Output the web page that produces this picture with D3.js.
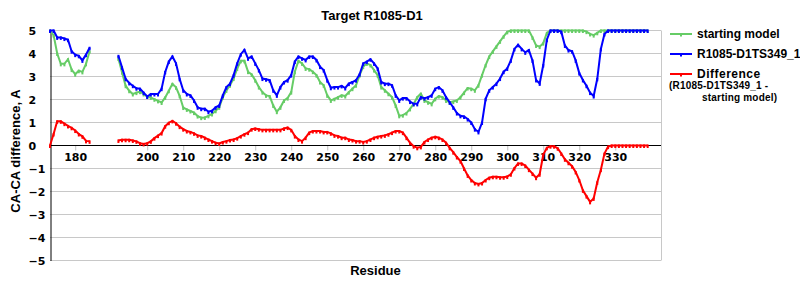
<!DOCTYPE html>
<html>
<head>
<meta charset="utf-8">
<script src="https://cdn.jsdelivr.net/npm/d3@7"></script>
<style>
	body { margin: 0; background: #fff; }
	text { font-family: "Liberation Sans", Arial, sans-serif; font-weight: bold; }
	.tick-label { font-family: "DejaVu Sans", Verdana, sans-serif; font-size: 11px; }
</style>
</head>
<body>
<script>

// residue numbers (185-191 missing in the model)
const residues = [
	173,174,175,176,177,178,179,180,181,182,
	183,184,185,186,187,188,189,190,191,192,
	193,194,195,196,197,198,199,200,201,202,
	203,204,205,206,207,208,209,210,211,212,
	213,214,215,216,217,218,219,220,221,222,
	223,224,225,226,227,228,229,230,231,232,
	233,234,235,236,237,238,239,240,241,242,
	243,244,245,246,247,248,249,250,251,252,
	253,254,255,256,257,258,259,260,261,262,
	263,264,265,266,267,268,269,270,271,272,
	273,274,275,276,277,278,279,280,281,282,
	283,284,285,286,287,288,289,290,291,292,
	293,294,295,296,297,298,299,300,301,302,
	303,304,305,306,307,308,309,310,311,312,
	313,314,315,316,317,318,319,320,321,322,
	323,324,325,326,327,328,329,330,331,332,
	333,334,335,336,337,338,339
]

const startingModel = [
	5.0, 4.8, 4.0, 3.55, 3.55, 3.75, 3.3, 3.1, 3.25, 3.2,
	3.55, 4.1, null, null, null, null, null, null, null, 3.78,
	3.19, 2.6, 2.38, 2.24, 2.3, 2.34, 2.24, 2.13, 2.09, 2.01,
	1.94, 1.87, 2.09, 2.38, 2.68, 2.53, 2.16, 1.65, 1.57, 1.5,
	1.43, 1.28, 1.21, 1.22, 1.29, 1.37, 1.51, 1.66, 2.1, 2.4,
	2.62, 2.91, 3.35, 3.68, 3.68, 3.21, 3.09, 2.84, 2.54, 2.32,
	2.18, 2.15, 1.74, 1.47, 1.66, 1.96, 2.06, 2.32, 3.21, 3.68,
	3.57, 3.35, 3.32, 3.21, 3.06, 2.76, 2.62, 2.18, 1.96, 2.03,
	2.1, 2.18, 2.15, 2.32, 2.47, 2.62, 3.06, 3.43, 3.57, 3.5,
	3.28, 3.06, 2.54, 2.4, 2.25, 2.1, 1.74, 1.29, 1.32, 1.41,
	1.59, 1.81, 2.1, 2.25, 1.96, 1.88, 1.81, 2.03, 2.15, 2.1,
	1.96, 1.88, 1.91, 1.96, 2.1, 2.3, 2.5, 2.47, 2.4, 2.62,
	3.06, 3.5, 3.87, 4.09, 4.31, 4.53, 4.75, 4.94, 5, 5,
	5, 5, 5, 5, 4.7, 4.35, 4.3, 4.45, 4.9, 5,
	5, 5, 5, 5, 5, 5, 5, 5, 5, 4.95,
	4.85, 4.8, 4.9, 5, 5, 5, 5, 5, 5, 5,
	5, 5, 5, 5, 5, 5, 5
]

const ts349 = [
	5.0, 5.0, 4.7, 4.7, 4.65, 4.6, 4.1, 3.95, 3.9, 3.7,
	3.95, 4.25, null, null, null, null, null, null, null, 3.9,
	3.4, 2.9, 2.72, 2.6, 2.49, 2.47, 2.3, 2.13, 2.24, 2.24,
	2.24, 2.47, 3.2, 3.65, 3.87, 3.57, 2.9, 2.4, 2.24, 2.18,
	1.96, 1.66, 1.6, 1.6, 1.47, 1.51, 1.66, 1.74, 2.18, 2.54,
	2.69, 3.06, 3.57, 3.97, 4.16, 3.79, 3.87, 3.57, 3.28, 2.91,
	2.88, 2.84, 2.4, 2.18, 2.54, 2.76, 2.84, 3.06, 3.65, 3.87,
	3.79, 3.72, 3.87, 3.87, 3.72, 3.43, 3.28, 2.84, 2.51, 2.54,
	2.54, 2.59, 2.5, 2.69, 2.76, 2.84, 3.1, 3.57, 3.65, 3.75,
	3.57, 3.35, 2.76, 2.69, 2.69, 2.62, 2.18, 1.96, 2.06, 2.06,
	1.91, 1.81, 1.81, 2.1, 2.06, 2.1, 2.18, 2.47, 2.54, 2.4,
	2.1, 1.88, 1.66, 1.41, 1.29, 1.26, 1.15, 1.0, 0.71, 0.59,
	1.0, 2.03, 2.4, 2.54, 2.69, 2.91, 3.21, 3.35, 3.7, 4.2,
	4.38, 4.2, 4.05, 4.15, 3.7, 2.85, 2.7, 3.5, 4.6, 5,
	5, 5, 4.95, 4.35, 4.15, 4.1, 3.7, 3.15, 2.85, 2.6,
	2.3, 2.15, 2.9, 4.2, 4.85, 5, 5, 5, 5, 5,
	5, 5, 5, 5, 5, 5, 5
]

const difference = [
	0, 0.5, 1.05, 1.05, 0.95, 0.85, 0.77, 0.65, 0.5, 0.4,
	0.2, 0.18, null, null, null, null, null, null, null, 0.22,
	0.25, 0.25, 0.25, 0.22, 0.18, 0.1, 0.07, 0.1, 0.18, 0.32,
	0.43, 0.54, 0.84, 0.99, 1.07, 0.97, 0.82, 0.71, 0.63, 0.59,
	0.53, 0.44, 0.41, 0.34, 0.26, 0.19, 0.12, 0.09, 0.15, 0.19,
	0.24, 0.26, 0.32, 0.41, 0.49, 0.56, 0.71, 0.74, 0.71, 0.68,
	0.68, 0.68, 0.68, 0.68, 0.68, 0.74, 0.78, 0.68, 0.41, 0.26,
	0.19, 0.34, 0.56, 0.63, 0.63, 0.63, 0.59, 0.59, 0.53, 0.44,
	0.41, 0.34, 0.34, 0.26, 0.24, 0.19, 0.19, 0.15, 0.19, 0.26,
	0.34, 0.38, 0.41, 0.44, 0.49, 0.56, 0.63, 0.63, 0.56, 0.34,
	0.12, -0.03, -0.1, -0.06, 0.15, 0.26, 0.34, 0.38, 0.34, 0.26,
	0.12, -0.1, -0.29, -0.5, -0.68, -1.0, -1.3, -1.5, -1.63, -1.67,
	-1.63, -1.5, -1.4, -1.36, -1.36, -1.38, -1.38, -1.35, -1.25, -0.98,
	-0.78, -0.78, -0.87, -1.05, -1.22, -1.4, -1.25, -0.4, -0.1, -0.03,
	-0.03, -0.12, -0.35, -0.6, -0.75, -0.9, -1.15, -1.5, -1.95, -2.2,
	-2.45, -2.3, -1.6, -1.05, -0.35, -0.05, 0, 0, 0, 0,
	0, 0, 0, 0, 0, 0, 0
]

const xTicks = [180, 200, 210, 220, 230, 240, 250, 260, 270, 280, 290, 300, 310, 320, 330]
const yTicks = [5, 4, 3, 2, 1, 0, -1, -2, -3, -4, -5]

const series = [
	{ name: 'starting model', values: startingModel, color: '#66cc66' },
	{ name: 'R1085-D1TS349_1', values: ts349, color: '#0000ff' },
	{ name: 'Difference', values: difference, color: '#ff0000' }
]

const margin = { top: 30, left: 50 }
const width = 611
const height = 230

const svg = d3.select('body').append('svg')
	.attr('width', 800)
	.attr('height', 300)

const g = svg.append('g')
	.attr('transform', 'translate(' + margin.left + ',' + margin.top + ')')

const xScale = d3.scaleLinear().domain([173, 342.7]).range([0, width])
const yScale = d3.scaleLinear().domain([-5, 5]).range([height + 0.5, 0.5])

// grid
g.selectAll('.grid')
	.data(yTicks.filter(d => d !== 0))
	.enter().append('line')
	.attr('x1', 0)
	.attr('x2', width)
	.attr('y1', d => yScale(d))
	.attr('y2', d => yScale(d))
	.attr('stroke', '#c8c8c8')
	.attr('stroke-width', 1)

g.append('line')
	.attr('x1', width + 0.5).attr('x2', width + 0.5)
	.attr('y1', yScale(5)).attr('y2', yScale(-5))
	.attr('stroke', '#c8c8c8')

// x axis on zero line
const xAxis = d3.axisBottom(xScale)
	.tickValues(xTicks)
	.tickSize(5)
	.tickPadding(4)
	.tickFormat(d3.format('d'))

const xg = g.append('g')
	.attr('transform', 'translate(0,' + yScale(0) + ')')
	.call(xAxis)
xg.select('.domain').remove()
xg.selectAll('.tick line').attr('stroke', '#c0c0c0')
xg.selectAll('.tick text')
	.attr('class', 'tick-label')
	.attr('fill', '#000')
	.attr('y', 8)

g.append('line')
	.attr('x1', 0).attr('x2', width)
	.attr('y1', yScale(0)).attr('y2', yScale(0))
	.attr('stroke', '#000')

// y axis
const yAxis = d3.axisLeft(yScale).tickValues(yTicks).tickSize(0)
const yg = g.append('g').attr('transform', 'translate(0.5,0)').call(yAxis)
yg.select('.domain').attr('stroke', '#000')
yg.selectAll('.tick text')
	.attr('class', 'tick-label')
	.attr('fill', '#000')
	.attr('text-anchor', 'start')
	.attr('x', -22)
	.attr('dy', '0.36em')

// lines
const line = d3.line()
	.defined(d => d.v !== null)
	.x(d => xScale(d.r))
	.y(d => yScale(d.v))

series.forEach(function(s) {
	const pts = residues.map((r, i) => ({ r: r, v: s.values[i] }))
	g.append('path')
		.datum(pts)
		.attr('fill', 'none')
		.attr('stroke', s.color)
		.attr('stroke-width', 2)
		.attr('d', line)
	g.selectAll(null)
		.data(pts.filter(d => d.v !== null))
		.enter().append('rect')
		.attr('x', d => xScale(d.r) - 1)
		.attr('y', d => yScale(d.v) - 1)
		.attr('width', 2)
		.attr('height', 3.5)
		.attr('fill', s.color)
})

// titles
svg.append('text')
	.attr('x', 372)
	.attr('y', 20)
	.attr('text-anchor', 'middle')
	.style('font-size', '13px')
	.text('Target R1085-D1')

svg.append('text')
	.attr('x', 375.5)
	.attr('y', 275)
	.attr('text-anchor', 'middle')
	.style('font-size', '13px')
	.text('Residue')

svg.append('text')
	.attr('transform', 'translate(20,151) rotate(-90)')
	.attr('text-anchor', 'middle')
	.style('font-size', '13px')
	.text('CA-CA difference, A')

// legend
const legend = svg.append('g')
series.forEach(function(s, i) {
	const ly = 34 + i * 20
	legend.append('line')
		.attr('x1', 670).attr('x2', 692)
		.attr('y1', ly).attr('y2', ly)
		.attr('stroke', s.color)
		.attr('stroke-width', 2)
	legend.append('rect')
		.attr('x', 680).attr('y', ly - 1)
		.attr('width', 2).attr('height', 3.5)
		.attr('fill', s.color)
	legend.append('text')
		.attr('x', 697)
		.attr('y', ly + 4)
		.style('font-size', '12px')
		.style('letter-spacing', i === 2 ? '0.5px' : '0px')
		.text(s.name)
})
legend.append('text')
	.attr('x', 669).attr('y', 89)
	.style('font-size', '10px')
	.style('letter-spacing', '0.2px')
	.text('(R1085-D1TS349_1 -')
legend.append('text')
	.attr('x', 702).attr('y', 100.5)
	.style('font-size', '10px')
	.style('letter-spacing', '0.2px')
	.text('starting model)')

</script>
</body>
</html>
